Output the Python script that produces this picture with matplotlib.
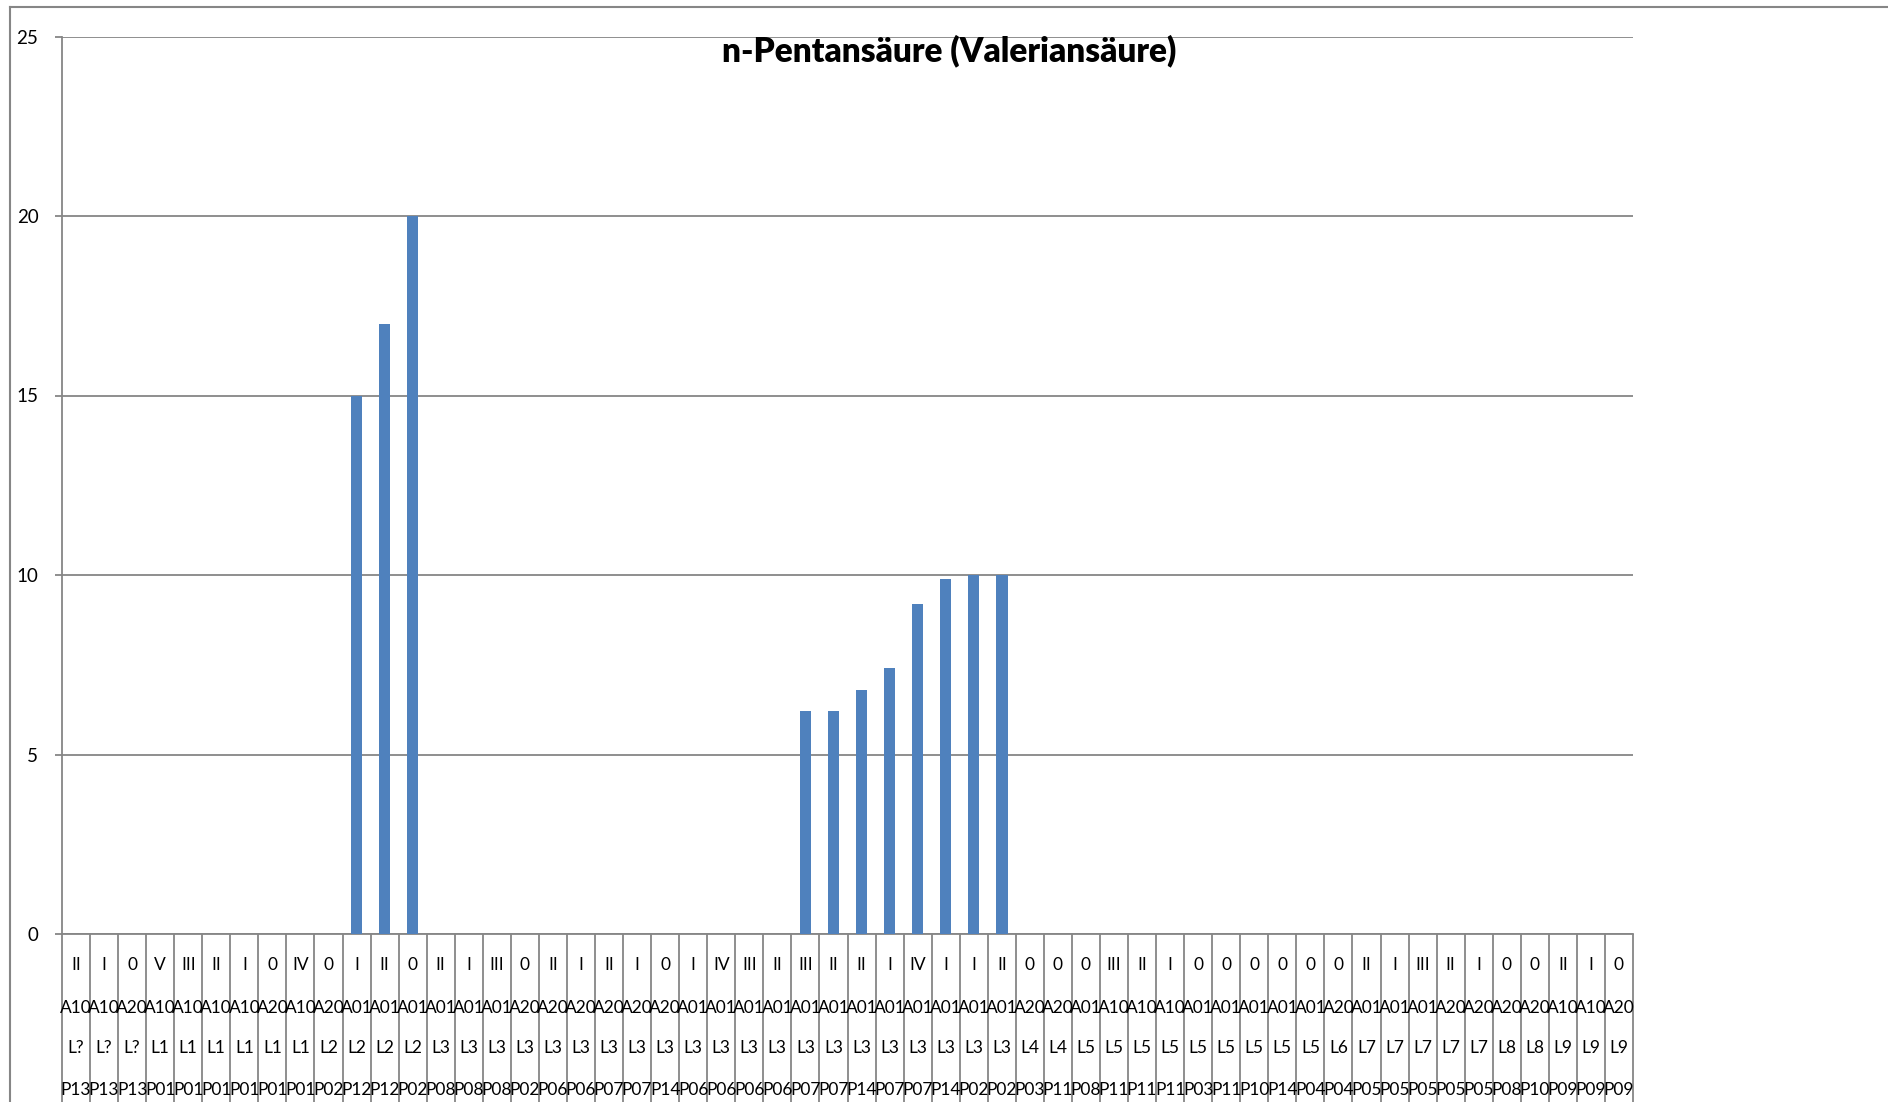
import matplotlib
matplotlib.use("Agg")
import matplotlib.pyplot as plt
from matplotlib.lines import Line2D
import numpy as np

# category label rows (top to bottom under the axis)
klasse = ["II", "I", "0", "V", "III", "II", "I", "0", "IV", "0", "I", "II", "0", "II",
          "I", "III", "0", "II", "I", "II", "I", "0", "I", "IV", "III", "II", "III", "II",
          "II", "I", "IV", "I", "I", "II", "0", "0", "0", "III", "II", "I", "0", "0",
          "0", "0", "0", "0", "II", "I", "III", "II", "I", "0", "0", "II", "I", "0"]
anlage = ["A10", "A10", "A20", "A10", "A10", "A10", "A10", "A20", "A10", "A20", "A01", "A01",
          "A01", "A01", "A01", "A01", "A20", "A20", "A20", "A20", "A20", "A20", "A01", "A01",
          "A01", "A01", "A01", "A01", "A01", "A01", "A01", "A01", "A01", "A01", "A20", "A20",
          "A01", "A10", "A10", "A10", "A01", "A01", "A01", "A01", "A01", "A20", "A01", "A01",
          "A01", "A20", "A20", "A20", "A20", "A10", "A10", "A20"]
lauf = ["L?", "L?", "L?", "L1", "L1", "L1", "L1", "L1", "L1", "L2", "L2", "L2", "L2", "L3",
        "L3", "L3", "L3", "L3", "L3", "L3", "L3", "L3", "L3", "L3", "L3", "L3", "L3", "L3",
        "L3", "L3", "L3", "L3", "L3", "L3", "L4", "L4", "L5", "L5", "L5", "L5", "L5", "L5",
        "L5", "L5", "L5", "L6", "L7", "L7", "L7", "L7", "L7", "L8", "L8", "L9", "L9", "L9"]
probe = ["P13", "P13", "P13", "P01", "P01", "P01", "P01", "P01", "P01", "P02", "P12", "P12",
         "P02", "P08", "P08", "P08", "P02", "P06", "P06", "P07", "P07", "P14", "P06", "P06",
         "P06", "P06", "P07", "P07", "P14", "P07", "P07", "P14", "P02", "P02", "P03", "P11",
         "P08", "P11", "P11", "P11", "P03", "P11", "P10", "P14", "P04", "P04", "P05", "P05",
         "P05", "P05", "P05", "P08", "P10", "P09", "P09", "P09"]

werte = [0, 0, 0, 0, 0, 0, 0, 0, 0, 0, 15, 17, 20, 0, 0, 0, 0, 0, 0, 0, 0, 0, 0, 0, 0, 0,
         6.2, 6.2, 6.8, 7.4, 9.2, 9.9, 10, 10, 0, 0, 0, 0, 0, 0, 0, 0, 0, 0, 0, 0, 0, 0,
         0, 0, 0, 0, 0, 0, 0, 0]

yticks = [0, 5, 10, 15, 20, 25]
title = "n-Pentansäure (Valeriansäure)"

plt.rcParams['font.family'] = ['Lato', 'DejaVu Sans']
grey = "#868686"

W, H = 1888, 1102
fig = plt.figure(figsize=(W / 100, H / 100), dpi=100)
left, right, top, bottom = 62, 1633, 36.5, 934
ax = fig.add_axes([left / W, 1 - bottom / H, (right - left) / W, (bottom - top) / H])

x = np.arange(len(werte))
ax.bar(x, werte, width=0.41, color="#4F81BD", zorder=3)

ax.set_xlim(-0.5, len(werte) - 0.5)
ax.set_ylim(0, 25)
ax.set_yticks(yticks)
ax.set_yticklabels([str(t) for t in yticks], fontsize=13.5)
ax.tick_params(axis="y", length=5, color=grey, width=1.3, pad=12)
ax.set_xticks([])
ax.yaxis.grid(True, color=grey, linewidth=1.3, zorder=0)
for s in ["top", "right"]:
    ax.spines[s].set_visible(False)
for s in ["left", "bottom"]:
    ax.spines[s].set_color(grey)
    ax.spines[s].set_linewidth(1.3)

# multi-level category labels with separators
trans = ax.get_xaxis_transform()
ax_h = bottom - top
rows = [(klasse, 965), (anlage, 1008), (lauf, 1048), (probe, 1090)]
for labels, ypix in rows:
    yy = (bottom - ypix) / ax_h
    for i, lab in enumerate(labels):
        ax.text(i, yy, lab, transform=trans, ha="center", va="center",
                fontsize=12.5, clip_on=False)
ax.vlines(np.arange(len(werte) + 1) - 0.5, -0.2, 0, transform=trans,
          color=grey, linewidth=1.3, clip_on=False)

fig.text(949 / W, 1 - 51 / H, title, ha="center", va="center",
         fontsize=24, fontweight="heavy")

# outer chart border
fig.add_artist(Line2D([10 / W, 10 / W], [1 - 7 / H, 0], color=grey, linewidth=1.5))
fig.add_artist(Line2D([10 / W, 1], [1 - 7 / H, 1 - 7 / H], color=grey, linewidth=1.5))

fig.savefig("out.png", dpi=100)
